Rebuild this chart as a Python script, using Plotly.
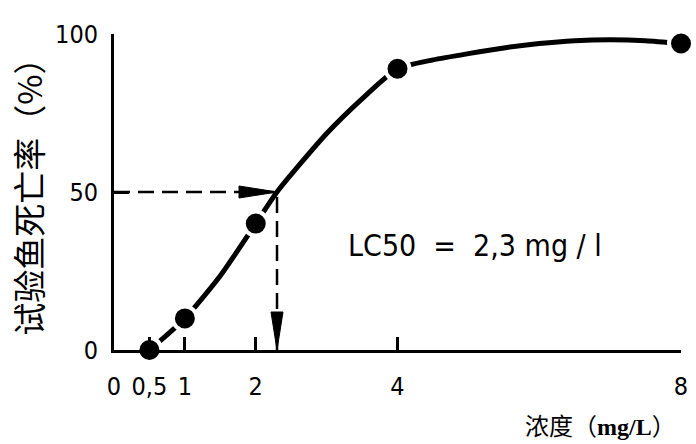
import plotly.graph_objects as go

# ---- data ----
conc = [0.5, 1, 2, 4, 8]                      # mg/L
mortality = [0, 10, 40, 89, 97]               # %
curve_x = [0.5, 1, 1.5, 2, 2.3, 3, 3.5, 4, 4.5, 5, 5.5, 6, 6.5, 7, 7.5, 8]
curve_y = [0, 10, 23.5, 40, 50, 68.5, 79.5, 89, 91.8, 93.8, 95.6, 97, 97.9, 98.2, 97.9, 97]
lc50 = 2.3
lc50_level = 50
x_tickvals = [0, 0.5, 1, 2, 4, 8]
x_ticktext = ["0", "0,5", "1", "2", "4", "8"]
y_tickvals = [0, 50, 100]
y_ticktext = ["0", "50", "100"]

W, H = 696, 444
ML, MR, MT, MB = 114, 15, 34, 94
XMAX, YMAX = 8, 100
px_per_x = (W - ML - MR) / XMAX
px_per_y = (H - MT - MB) / YMAX

TICKFONT = "DejaVu Sans Condensed, Liberation Sans Narrow, DejaVu Sans, sans-serif"

fig = go.Figure()

# dashed guide lines (LC50 read-off)
fig.add_trace(go.Scatter(
    x=[0, lc50, lc50], y=[lc50_level, lc50_level, 0],
    mode="lines", line=dict(color="black", width=2.5, dash="16px,8px"),
    hoverinfo="skip", showlegend=False))

# fitted curve
fig.add_trace(go.Scatter(
    x=curve_x, y=curve_y, mode="lines",
    line=dict(color="black", width=5, shape="spline", smoothing=0.6),
    hoverinfo="skip", showlegend=False))

# observed points
fig.add_trace(go.Scatter(
    x=conc, y=mortality, mode="markers",
    marker=dict(color="black", size=24, line=dict(color="white", width=4)),
    cliponaxis=False, showlegend=False))

# arrowheads (long narrow triangles)
ah_len_px, ah_half_px = 38, 6
hx0 = lc50 - ah_len_px / px_per_x
hy = ah_half_px / px_per_y
vy0 = ah_len_px / px_per_y
vx = ah_half_px / px_per_x
fig.add_shape(type="path",
              path=f"M {hx0} {lc50_level - hy} L {lc50} {lc50_level} L {hx0} {lc50_level + hy} Z",
              fillcolor="black", line=dict(color="black", width=1))
fig.add_shape(type="path",
              path=f"M {lc50 - vx} {vy0} L {lc50} 0 L {lc50 + vx} {vy0} Z",
              fillcolor="black", line=dict(color="black", width=1))

# LC50 text
fig.add_annotation(x=3.27, y=33, xref="x", yref="y", text="LC50  =  2,3 mg / l",
                   showarrow=False, xanchor="left", yanchor="middle",
                   font=dict(family=TICKFONT, size=30, color="black"))

# axis titles
fig.add_annotation(xref="paper", yref="paper", x=0, y=0.51, xshift=-86,
                   text="试验鱼死亡率（%）", textangle=-90, showarrow=False,
                   xanchor="center", yanchor="middle",
                   font=dict(family="Noto Sans CJK SC", size=33, color="black"))
fig.add_annotation(xref="paper", yref="paper", x=0.858, y=-0.236,
                   text="浓度（<span style='font-family:Liberation Serif'><b>mg/L</b></span>）",
                   showarrow=False, xanchor="center", yanchor="middle",
                   font=dict(family="Noto Sans CJK SC", size=24, color="black"))

fig.update_xaxes(range=[0, XMAX], tickvals=x_tickvals, ticktext=x_ticktext,
                 showline=True, linecolor="black", linewidth=3,
                 ticks="inside", ticklen=13, tickwidth=2.5, tickcolor="black",
                 ticklabelstandoff=12, showgrid=False, zeroline=False, automargin=False,
                 tickfont=dict(family=TICKFONT, size=25, color="black"))
fig.update_yaxes(range=[0, YMAX], tickvals=y_tickvals, ticktext=y_ticktext,
                 showline=True, linecolor="black", linewidth=3,
                 ticks="inside", ticklen=15, tickwidth=2.5, tickcolor="black",
                 ticklabelstandoff=8, showgrid=False, zeroline=False, automargin=False,
                 tickfont=dict(family=TICKFONT, size=25, color="black"))

fig.update_layout(width=W, height=H, margin=dict(l=ML, r=MR, t=MT, b=MB, autoexpand=False),
                  plot_bgcolor="white", paper_bgcolor="white", showlegend=False)

fig.write_html("out.html", config={"displayModeBar": False},
               post_script="document.body.style.margin='0';document.body.style.overflow='hidden';")
